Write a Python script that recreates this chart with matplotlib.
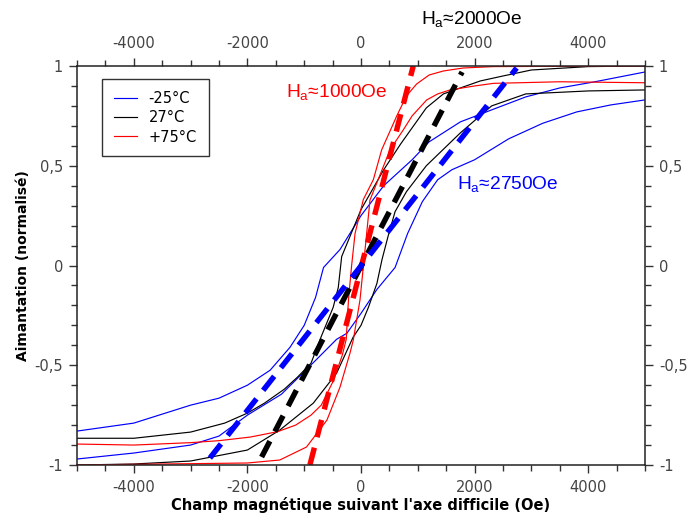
import numpy as np
import matplotlib
matplotlib.use("Agg")
import matplotlib.pyplot as plt
from matplotlib.ticker import MultipleLocator, FixedLocator, FixedFormatter

# ---------------- data ----------------
# -25 °C loop
blue_up_x = [-5000, -4000, -3500, -3000, -2500, -2000, -1600, -1250, -1000, -800, -660, -370, 0, 400, 900, 1200, 1750, 2300, 2900, 3500, 4100, 5000]
blue_up_y = [-0.83, -0.79, -0.745, -0.70, -0.665, -0.60, -0.525, -0.41, -0.30, -0.16, -0.01, 0.08, 0.25, 0.40, 0.53, 0.62, 0.72, 0.78, 0.845, 0.89, 0.92, 0.97]
blue_lo_x = [-5000, -4000, -3000, -2500, -2000, -1400, -850, -430, -250, 0, 280, 600, 820, 1080, 1350, 1600, 2000, 2600, 3200, 3800, 4400, 5000]
blue_lo_y = [-0.97, -0.94, -0.90, -0.855, -0.75, -0.645, -0.49, -0.37, -0.34, -0.24, -0.12, -0.01, 0.16, 0.32, 0.43, 0.48, 0.53, 0.635, 0.713, 0.77, 0.805, 0.83]

# 27 °C loop
black_up_x = [-5000, -4000, -3000, -2400, -2000, -1700, -1350, -1120, -880, -720, -490, -400, -340, 0, 400, 700, 1150, 1450, 1750, 2100, 2500, 3000, 4000, 5000]
black_up_y = [-0.866, -0.866, -0.835, -0.79, -0.74, -0.69, -0.62, -0.56, -0.49, -0.37, -0.21, -0.11, 0.045, 0.28, 0.48, 0.61, 0.79, 0.86, 0.89, 0.925, 0.95, 0.98, 0.997, 1.0]
black_lo_x = [-5000, -4000, -3000, -2000, -1430, -840, -430, -140, 0, 130, 280, 370, 480, 600, 800, 1150, 1750, 2300, 2900, 4000, 5000]
black_lo_y = [-1.0, -0.995, -0.98, -0.925, -0.825, -0.69, -0.54, -0.36, -0.30, -0.21, -0.09, 0.03, 0.15, 0.27, 0.37, 0.50, 0.665, 0.80, 0.86, 0.875, 0.88]

# +75 °C loop
red_up_x = [-5000, -4000, -3000, -2500, -1950, -1470, -1150, -880, -700, -490, -330, -260, -220, -165, -105, 40, 217, 364, 630, 800, 980, 1200, 1450, 1800, 2330, 5000]
red_up_y = [-0.895, -0.90, -0.888, -0.878, -0.86, -0.833, -0.80, -0.75, -0.70, -0.58, -0.45, -0.37, -0.17, 0.0, 0.16, 0.33, 0.43, 0.58, 0.75, 0.85, 0.91, 0.955, 0.975, 0.99, 0.997, 1.0]
red_lo_x = [-5000, -2000, -1430, -960, -600, -370, -195, -135, -18, 41, 100, 158, 511, 745, 900, 1157, 1350, 1567, 2000, 2330, 3500, 5000]
red_lo_y = [-1.0, -0.99, -0.975, -0.91, -0.775, -0.61, -0.44, -0.373, -0.173, -0.006, 0.161, 0.328, 0.58, 0.68, 0.75, 0.83, 0.86, 0.88, 0.90, 0.913, 0.921, 0.916]

# anisotropy-field tangent lines (dashed)
red_dash_x = [-900, 920]
red_dash_y = [-1.0, 1.0]
black_dash_x = [-1750, 1780]
black_dash_y = [-0.96, 0.97]
blue_dash_x = [-2660, 2740]
blue_dash_y = [-0.965, 0.99]

legend_labels = ["-25°C", "27°C", "+75°C"]
annot_texts = ["2000Oe", "1000Oe", "2750Oe"]

x_ticks = [-4000, -2000, 0, 2000, 4000]
x_ticklabels = ["-4000", "-2000", "0", "2000", "4000"]
y_ticks = [-1, -0.5, 0, 0.5, 1]
y_ticklabels = ["-1", "-0,5", "0", "0,5", "1"]

# ---------------- figure ----------------
plt.rcParams['font.family'] = ['DejaVu Sans']
fig = plt.figure(figsize=(6.89, 5.13), dpi=100)
ax = fig.add_axes([77/689, 1-465/513, 568/689, 399/513])

BLUE = '#0000ff'
RED = '#ff0000'
BLACK = '#000000'
thin = 0.85

ax.plot(blue_up_x, blue_up_y, color=BLUE, lw=thin, label=legend_labels[0])
ax.plot(blue_lo_x, blue_lo_y, color=BLUE, lw=thin)
ax.plot(black_up_x, black_up_y, color=BLACK, lw=thin, label=legend_labels[1])
ax.plot(black_lo_x, black_lo_y, color=BLACK, lw=thin)
ax.plot(red_up_x, red_up_y, color=RED, lw=thin, label=legend_labels[2])
ax.plot(red_lo_x, red_lo_y, color=RED, lw=thin)

dash = (0, (3.3, 2.0))
ax.plot(red_dash_x, red_dash_y, color=RED, lw=3.9, ls=dash, dash_capstyle='butt')
ax.plot(black_dash_x, black_dash_y, color=BLACK, lw=3.9, ls=dash, dash_capstyle='butt')
ax.plot(blue_dash_x, blue_dash_y, color=BLUE, lw=3.9, ls=dash, dash_capstyle='butt')

ax.set_xlim(-5000, 5000)
ax.set_ylim(-1, 1)

tick_color = '#444444'
ax.xaxis.set_major_locator(FixedLocator(x_ticks))
ax.xaxis.set_major_formatter(FixedFormatter(x_ticklabels))
ax.xaxis.set_minor_locator(MultipleLocator(500))
ax.yaxis.set_major_locator(FixedLocator(y_ticks))
ax.yaxis.set_major_formatter(FixedFormatter(y_ticklabels))
ax.yaxis.set_minor_locator(MultipleLocator(0.1))

ax.tick_params(axis='both', which='both', top=True, right=True, labeltop=True, labelright=True,
               labelsize=10.5, labelcolor=tick_color, color='#333333', width=1.0)
ax.tick_params(axis='x', which='major', direction='out', length=6, pad=5)
ax.tick_params(axis='x', which='minor', direction='out', length=4)
ax.tick_params(axis='y', which='major', direction='out', length=6, pad=4)
ax.tick_params(axis='y', which='minor', direction='out', length=4)
for s in ax.spines.values():
    s.set_linewidth(1.1)
    s.set_color('#222222')

ax.set_xlabel("Champ magnétique suivant l'axe difficile (Oe)", fontsize=10.5, fontweight='bold', labelpad=1)
ax.set_ylabel("Aimantation (normalisé)", fontsize=10, fontweight='bold', labelpad=3)

leg = ax.legend(loc='upper left', bbox_to_anchor=(0.044, 0.967), borderaxespad=0,
                fancybox=False, edgecolor='#333333', fontsize=10.5, handlelength=1.6,
                handletextpad=0.8, borderpad=0.8, labelspacing=0.3, framealpha=1)
leg.get_frame().set_linewidth(1.0)

afont = dict(family='Liberation Sans', fontsize=13.8)
ax.text(1950, 1.235, r"$\mathregular{H_a}$≈" + annot_texts[0], color=BLACK, ha='center', va='center', clip_on=False, **afont)
ax.text(-420, 0.87, r"$\mathregular{H_a}$≈" + annot_texts[1], color=RED, ha='center', va='center', **afont)
ax.text(2590, 0.41, r"$\mathregular{H_a}$≈" + annot_texts[2], color=BLUE, ha='center', va='center', **afont)

fig.savefig("out.png", dpi=100)
